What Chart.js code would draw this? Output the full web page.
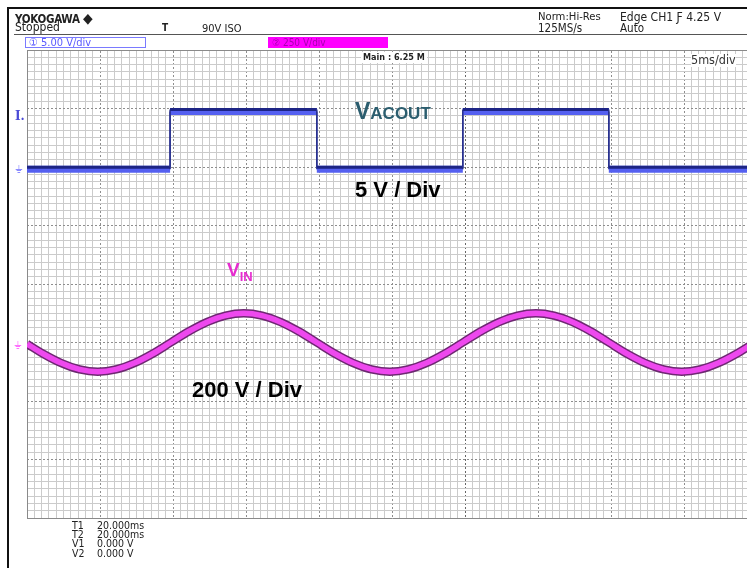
<!DOCTYPE html>
<html>
<head>
<meta charset="utf-8">
<script src="https://cdn.jsdelivr.net/npm/chart.js"></script>
<style>
  html, body { margin: 0; padding: 0; background: #fff; }
  body { width: 747px; height: 568px; overflow: hidden; position: relative; }
  #wrap { position: absolute; left: 0; top: 0; width: 760px; height: 568px; }
  .t { position: absolute; white-space: nowrap; line-height: 1; z-index: 2; }
  .scope { font-family: "DejaVu Sans Condensed", "DejaVu Sans", sans-serif; color: #222; }
  .note { font-family: "Liberation Sans", Arial, sans-serif; font-weight: bold; }
  .ln { position: absolute; z-index: 2; }
</style>
</head>
<body>
<div id="wrap"><canvas id="scope"></canvas></div>

<!-- frame + header -->
<div class="ln" style="left:7px;top:7px;width:2px;height:561px;background:#111"></div>
<div class="ln" style="left:7px;top:7px;width:740px;height:2px;background:#111"></div>
<div class="ln" style="left:14px;top:34px;width:733px;height:1px;background:#555"></div>

<div class="t scope" style="left:15px;top:11px;font-size:11.5px;font-weight:bold;letter-spacing:-0.3px">YOKOGAWA <span style="font-size:14px">◆</span></div>
<div class="t scope" style="left:15px;top:21px;font-size:12px">Stopped</div>
<div class="t scope" style="left:162px;top:23px;font-size:10px;font-weight:bold">T</div>
<div class="t scope" style="left:202px;top:23px;font-size:11px">90V ISO</div>
<div class="t scope" style="left:538px;top:11px;font-size:11.2px">Norm:Hi-Res</div>
<div class="t scope" style="left:538px;top:23px;font-size:11.5px">125MS/s</div>
<div class="t scope" style="left:620px;top:11px;font-size:12px">Edge CH1 Ƒ 4.25 V</div>
<div class="t scope" style="left:620px;top:23px;font-size:11.5px">Auto</div>

<div class="ln" style="left:25px;top:37px;width:119px;height:9px;border:1px solid #7a7aff;background:#fff"></div>
<div class="t scope" style="left:29px;top:37px;font-size:11px;color:#5a5aff">① 5.00 V/div</div>
<div class="ln" style="left:268px;top:37px;width:120px;height:11px;background:#ff00ff"></div>
<div class="t scope" style="left:272px;top:38px;font-size:10px;color:#a800b0">② 250 V/div</div>

<div class="t scope" style="left:361px;top:52px;font-size:9px;font-weight:bold;background:#fff;padding:1px 2px">Main : 6.25 M</div>
<div class="t scope" style="left:691px;top:54px;font-size:12.5px;color:#333;background:#fff">5ms/div</div>

<!-- channel markers -->
<div class="t" style="left:15px;top:109px;font:bold 12px 'DejaVu Serif',serif;color:#4b4bd6">I.</div>
<div class="t scope" style="left:15px;top:164px;font-size:11px;color:#8c8cff">⏚</div>
<div class="t scope" style="left:14px;top:340px;font-size:11px;color:#ff70ff">⏚</div>

<!-- annotations -->
<div class="t note" style="left:355px;top:100px;font-size:23px;color:#2b5d6e">V<span style="font-size:17px">ACOUT</span></div>
<div class="t note" style="left:355px;top:179px;font-size:22px;color:#000">5 V / Div</div>
<div class="t note" style="left:227px;top:260px;font-size:19px;color:#e62ccf">V<span style="font-size:13px;vertical-align:-5px">IN</span></div>
<div class="t note" style="left:192px;top:379px;font-size:22px;color:#000">200 V / Div</div>

<!-- cursor readout -->
<div class="t scope" style="left:72px;top:519.5px;font-size:10.5px">T1</div>
<div class="t scope" style="left:97px;top:519.5px;font-size:10.5px">20.000ms</div>
<div class="t scope" style="left:72px;top:528.5px;font-size:10.5px">T2</div>
<div class="t scope" style="left:97px;top:528.5px;font-size:10.5px">20.000ms</div>
<div class="t scope" style="left:72px;top:538px;font-size:10.5px">V1</div>
<div class="t scope" style="left:97px;top:538px;font-size:10.5px">0.000 V</div>
<div class="t scope" style="left:72px;top:548px;font-size:10.5px">V2</div>
<div class="t scope" style="left:97px;top:548px;font-size:10.5px">0.000 V</div>

<script>
// time in ms, VIN in volts (CH2), VACOUT in volts (CH1)
const vinTimes = [0, 1.1, 2.35, 3.6, 4.85, 6.1, 7.35, 8.6, 9.85, 11.1, 12.35, 13.6, 14.85,
	16.1, 17.35, 18.6, 19.85, 21.1, 22.35, 23.6, 24.85, 26.1, 27.35, 28.6, 29.85, 31.1,
	32.35, 33.6, 34.85, 36.1, 37.35, 38.6, 39.85, 41.1, 42.35, 43.6, 44.85, 46.1, 47.35, 48.6, 49.85];
const vinVolts = [-6, -48, -88, -115, -125, -115, -88, -48, 0, 48, 88, 115, 125,
	115, 88, 48, 0, -48, -88, -115, -125, -115, -88, -48, 0, 48,
	88, 115, 125, 115, 88, 48, 0, -48, -88, -115, -125, -115, -88, -48, 0];

const acoutTimes = [0, 9.8, 9.8, 19.85, 19.85, 29.85, 29.85, 39.85, 39.85, 50];
const acoutVolts = [0, 0, 4.95, 4.95, 0, 0, 4.95, 4.95, 0, 0];

// scope settings: volts per division and ground position (divisions from centre)
const ch1 = { voltsPerDiv: 5, ground: 1.96 };
const ch2 = { voltsPerDiv: 250, ground: -1 };

function toDiv(times, volts, ch) {
	return times.map((t, i) => ({ x: t, y: ch.ground + volts[i] / ch.voltsPerDiv }));
}

const vinData = toDiv(vinTimes, vinVolts, ch2);
const acoutData = toDiv(acoutTimes, acoutVolts, ch1);

const isEdge = (c) => c.p0.parsed.x === c.p1.parsed.x;

// nudges a dataset up/down a few pixels (two-tone trace)
const shiftPlugin = {
	id: "shift",
	beforeDatasetDraw(chart, args) {
		const s = chart.data.datasets[args.index].shiftY || 0;
		chart.ctx.save();
		chart.ctx.translate(0, s);
	},
	afterDatasetDraw(chart) {
		chart.ctx.restore();
	},
};

const hidden = { display: false };

new Chart("scope", {
	type: "line",
	data: {
		datasets: [
			{
				label: "VACOUT top",
				data: acoutData,
				borderColor: "#1d2585",
				borderWidth: 3,
				shiftY: -2,
				segment: {
					borderWidth: (c) => (isEdge(c) ? 1.5 : 3),
					borderColor: (c) => (isEdge(c) ? "#2a3290" : "#1d2585"),
				},
			},
			{
				label: "VACOUT",
				data: acoutData,
				borderColor: "#5560f0",
				borderWidth: 7,
				segment: {
					borderWidth: (c) => (isEdge(c) ? 1.5 : 7),
					borderColor: (c) => (isEdge(c) ? "#2a3290" : "#5560f0"),
				},
			},
			{
				label: "VIN",
				data: vinData,
				borderColor: "#ee48ee",
				borderWidth: 5.5,
				cubicInterpolationMode: "monotone",
			},
			{
				label: "VIN edge",
				data: vinData,
				borderColor: "#6e2872",
				borderWidth: 8.5,
				cubicInterpolationMode: "monotone",
			},
		],
	},
	options: {
		responsive: true,
		maintainAspectRatio: false,
		animation: false,
		events: [],
		parsing: false,
		elements: { point: { radius: 0 }, line: { borderCapStyle: "butt", borderJoinStyle: "miter" } },
		layout: { autoPadding: false, padding: { left: 27, top: 50, right: 3, bottom: 50 } },
		plugins: { legend: hidden, tooltip: { enabled: false } },
		scales: {
			x: {
				type: "linear", min: 0, max: 50, position: "bottom",
				ticks: { display: false, stepSize: 0.5, autoSkip: false },
				grid: { drawTicks: false, color: (c) => (c.tick.value % 5 === 0 ? "rgba(0,0,0,0)" : "#cbcbcb") },
				border: { color: "#8a8a8a" },
			},
			xMaj: {
				type: "linear", min: 0, max: 50, position: "top",
				ticks: { display: false, stepSize: 5, autoSkip: false },
				grid: {
					drawTicks: false,
					color: (c) => (c.tick.value === 0 || c.tick.value === 50 ? "rgba(0,0,0,0)" : c.tick.value === 30 ? "#666" : "#8e8e8e"),
				},
				border: { color: "#8a8a8a", dash: [2, 2] },
			},
			y: {
				type: "linear", min: -4, max: 4, position: "left",
				ticks: { display: false, stepSize: 0.125, autoSkip: false },
				grid: { drawTicks: false, color: (c) => (c.tick.value % 1 === 0 ? "rgba(0,0,0,0)" : "#cbcbcb") },
				border: { color: "#8a8a8a" },
			},
			yMaj: {
				type: "linear", min: -4, max: 4, position: "right",
				ticks: { display: false, stepSize: 1, autoSkip: false },
				grid: { drawTicks: false, color: (c) => (Math.abs(c.tick.value) === 4 ? "rgba(0,0,0,0)" : "#8e8e8e") },
				border: { color: "#8a8a8a", dash: [2, 2] },
			},
		},
	},
	plugins: [shiftPlugin],
});
</script>
</body>
</html>
